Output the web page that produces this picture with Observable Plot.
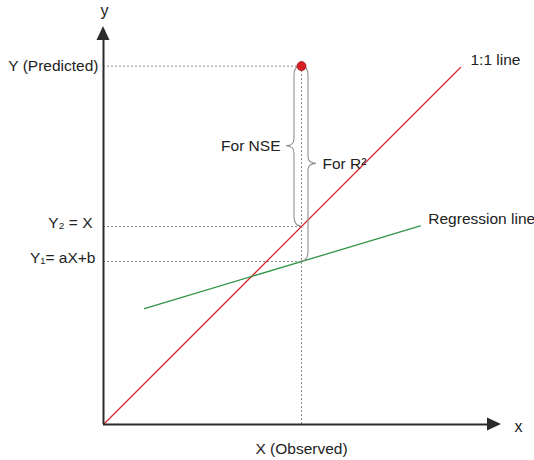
<!DOCTYPE html>
<html>
<head>
<meta charset="utf-8">
<script src="https://cdn.jsdelivr.net/npm/d3@7"></script>
<script src="https://cdn.jsdelivr.net/npm/@observablehq/plot@0.6"></script>
<style>
  html, body { margin: 0; padding: 0; background: #fff; }
</style>
</head>
<body>
<div id="chart"></div>
<script>
// Observed value and the two model estimates compared against the prediction
const xObserved = 10;
const yPredicted = 18.1;
const regSlope = 0.30;
const regIntercept = 5.23;
const y2 = xObserved;                              // on the 1:1 line
const y1 = regSlope * xObserved + regIntercept;    // on the regression line

// extents of the two reference lines (x values)
const oneToOneX = [0, 18.03];
const regressionX = [2.07, 16.0];

// axis arrows end here (data units)
const axisEnd = 20.1;

// labels on the y side
const yLabelText = ["Y (Predicted)", "Y\u2082 = X", "Y\u2081= aX+b"];
const yLabelValue = [yPredicted, y2, y1];

const redLine = "#d8262e";
const greenLine = "#2f9447";
const guideGray = "#8c8c8c";
const axisColor = "#2b2b2b";
const font = "'Liberation Sans', Arial, Helvetica, sans-serif";
const fs = 15.5;

const oneToOne = oneToOneX.map(x => ({x, y: x}));
const regression = regressionX.map(x => ({x, y: regSlope * x + regIntercept}));

// curly braces and filled arrowheads, drawn in pixel space through the scales
function annotations(index, scales) {
  const {x, y} = scales;
  const g = d3.create("svg:g");
  const brace = (xv, yTop, yBot, side) => {
    const px = x(xv), t = y(yTop), b = y(yBot), m = (t + b) / 2;
    const w = 7 * side, tip = 15 * side, r = 10, rm = 7;
    return `M${px},${t}Q${px + w},${t} ${px + w},${t + r}` +
      `L${px + w},${m - rm}Q${px + w},${m} ${px + tip},${m}` +
      `Q${px + w},${m} ${px + w},${m + rm}` +
      `L${px + w},${b - r}Q${px + w},${b} ${px},${b}`;
  };
  g.append("path").attr("d", brace(xObserved, yPredicted, y2, -1))
    .attr("fill", "none").attr("stroke", "#909090").attr("stroke-width", 1.1);
  g.append("path").attr("d", brace(xObserved, yPredicted, y1, 1))
    .attr("fill", "none").attr("stroke", "#909090").attr("stroke-width", 1.1);
  // arrowheads
  const ox = x(0), oy = y(0), tx = x(axisEnd), ty = y(axisEnd);
  const len = 14, half = 6.5;
  g.append("path")
    .attr("d", `M${tx},${oy}L${tx - len},${oy - half}L${tx - len},${oy + half}Z`)
    .attr("fill", axisColor);
  g.append("path")
    .attr("d", `M${ox},${ty}L${ox - half},${ty + len}L${ox + half},${ty + len}Z`)
    .attr("fill", axisColor);
  return g.node();
}

const chart = Plot.plot({
  width: 534,
  height: 460,
  marginLeft: 103,
  marginRight: 35,
  marginTop: 28,
  marginBottom: 36,
  x: {domain: [0, 20], axis: null},
  y: {domain: [0, 20], axis: null},
  style: {fontFamily: font, fontSize: fs + "px", color: "#222", background: "#fff"},
  marks: [
    // dotted guides
    Plot.ruleY([yPredicted, y2, y1], {x1: 0, x2: xObserved, stroke: guideGray, strokeWidth: 1, strokeDasharray: "2,2"}),
    Plot.ruleX([xObserved], {y1: 0, y2: yPredicted, stroke: guideGray, strokeWidth: 1, strokeDasharray: "2,2"}),
    // reference lines
    Plot.line(oneToOne, {x: "x", y: "y", stroke: redLine, strokeWidth: 1.3}),
    Plot.line(regression, {x: "x", y: "y", stroke: greenLine, strokeWidth: 1.3}),
    // axes
    Plot.ruleY([0], {x1: 0, x2: axisEnd - 0.3, stroke: axisColor, strokeWidth: 2}),
    Plot.ruleX([0], {y1: 0, y2: axisEnd - 0.3, stroke: axisColor, strokeWidth: 2}),
    annotations,
    // predicted point
    Plot.dot([{x: xObserved, y: yPredicted}], {x: "x", y: "y", r: 4.5, fill: "#d81e25", stroke: "#a8141a", strokeWidth: 0.8}),
    // axis names
    Plot.text(["x"], {x: axisEnd, y: 0, dx: 17, dy: 2, fontSize: 16, textAnchor: "middle"}),
    Plot.text(["y"], {x: 0, y: axisEnd, dx: 1, dy: -16, fontSize: 16, textAnchor: "middle"}),
    Plot.text(["X (Observed)"], {x: xObserved, y: 0, dy: 25, textAnchor: "middle"}),
    // y side labels
    Plot.text([yLabelText[0]], {x: 0, y: yLabelValue[0], dx: -5, dy: 0, textAnchor: "end"}),
    Plot.text([yLabelText[1]], {x: 0, y: yLabelValue[1], dx: -11, dy: -3, textAnchor: "end"}),
    Plot.text([yLabelText[2]], {x: 0, y: yLabelValue[2], dx: -8, dy: -4, textAnchor: "end"}),
    // line labels
    Plot.text(["1:1 line"], {x: oneToOneX[1], y: oneToOneX[1], dx: 10, dy: -7, textAnchor: "start"}),
    Plot.text(["Regression line"], {x: regressionX[1], y: regSlope * regressionX[1] + regIntercept, dx: 8, dy: -7, textAnchor: "start"}),
    // brace labels
    Plot.text(["For NSE"], {x: xObserved, y: (yPredicted + y2) / 2, dx: -21, textAnchor: "end"}),
    Plot.text(["For R\u00b2"], {x: xObserved, y: (yPredicted + y1) / 2, dx: 21, textAnchor: "start"})
  ]
});

document.getElementById("chart").append(chart);
</script>
</body>
</html>
